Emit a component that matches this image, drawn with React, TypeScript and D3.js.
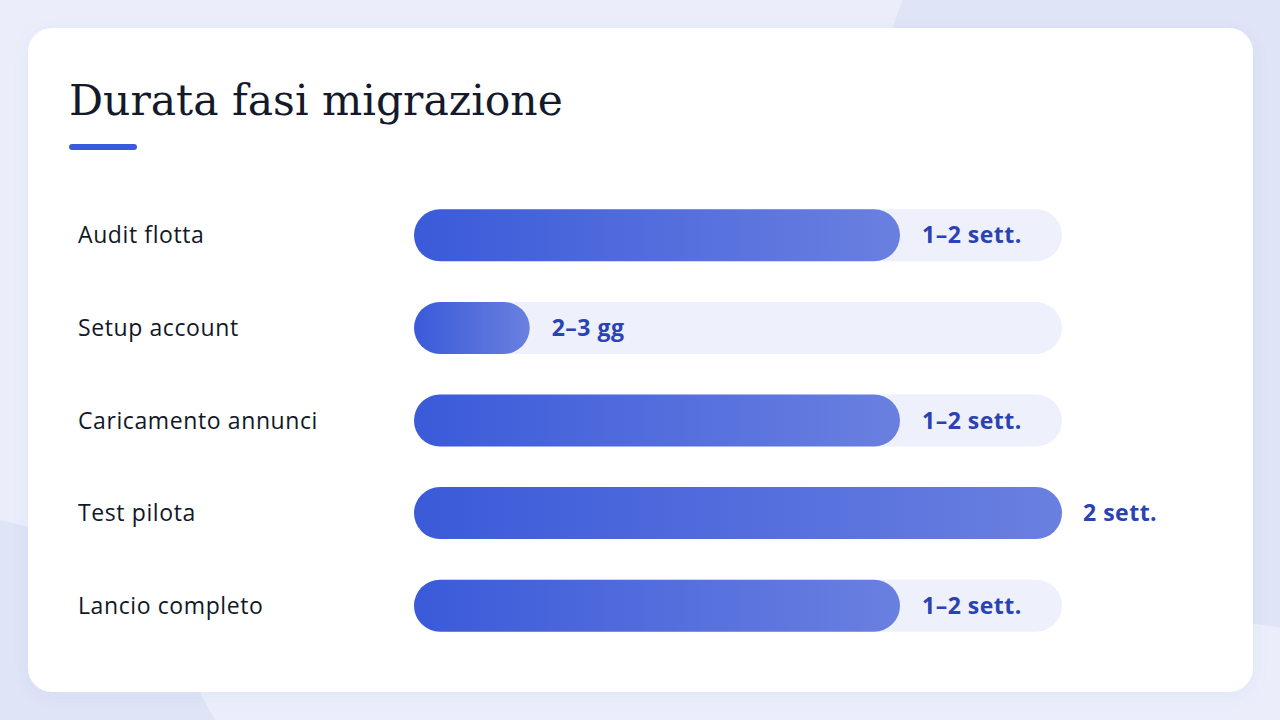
import React from "react";
import * as d3 from "d3";

const categories = ["Audit flotta", "Setup account", "Caricamento annunci", "Test pilota", "Lancio completo"];
const durationDays = [10.5, 2.5, 10.5, 14, 10.5];
const valueLabels = ["1–2 sett.", "2–3 gg", "1–2 sett.", "2 sett.", "1–2 sett."];
const maxDays = 14;

const W = 1280;
const H = 720;

export default function App() {
  const x = d3.scaleLinear().domain([0, maxDays]).range([414, 1062]);
  const y = d3.scaleBand().domain(categories).range([189, 652]).paddingInner(0.44).paddingOuter(0.22);
  const bh = 52;

  return (
    <div style={{ position: "fixed", left: 0, top: 0, width: W, height: H }}>
      <svg width={W} height={H} viewBox={`0 0 ${W} ${H}`}>
        <defs>
          <linearGradient id="barGrad" x1="0" x2="1" y1="0" y2="0">
            <stop offset="0%" stopColor="#3A5AD9" />
            <stop offset="100%" stopColor="#6A80E0" />
          </linearGradient>
          <filter id="cardShadow" x="-5%" y="-5%" width="110%" height="115%">
            <feDropShadow dx="0" dy="4" stdDeviation="8" floodColor="#4a5bb0" floodOpacity="0.06" />
          </filter>
        </defs>
        <rect x={0} y={0} width={W} height={H} fill="#EBEEFA" />
        <circle cx={1330} cy={170} r={460} fill="#DFE4F6" />
        <path d={`M0,520 Q120,540 215,720 L0,720 Z`} fill="#DFE4F6" />
        <rect x={28} y={28} width={1225} height={664} rx={24} fill="#FFFFFF" filter="url(#cardShadow)" />
        <text x={69} y={115} fontFamily="'DejaVu Serif', serif" fontSize={42.5} fill="#141a2a">
          Durata fasi migrazione
        </text>
        <rect x={69} y={144} width={68} height={6} rx={3} fill="#3B5BDB" />
        {categories.map((c, i) => {
          const yy = y(c)!;
          const yc = yy + y.bandwidth() / 2;
          const x1 = x(durationDays[i]);
          const inside = x1 + 150 < x(maxDays);
          return (
            <g key={c}>
              <text x={78} y={yc} dy="0.35em" fontFamily="'Open Sans', sans-serif" fontSize={23} fontWeight={500} letterSpacing={0.6} fill="#111827">
                {c}
              </text>
              <rect x={x(0)} y={yc - bh / 2} width={x(maxDays) - x(0)} height={bh} rx={bh / 2} fill="#EEF0FB" />
              <rect x={x(0)} y={yc - bh / 2} width={x1 - x(0)} height={bh} rx={bh / 2} fill="url(#barGrad)" />
              <text x={x1 + (inside ? 22 : 21)} y={yc} dy="0.35em" fontFamily="'Open Sans', sans-serif" fontSize={23} fontWeight={700} letterSpacing={0.5} fill="#2A43B3">
                {valueLabels[i]}
              </text>
            </g>
          );
        })}
      </svg>
    </div>
  );
}
